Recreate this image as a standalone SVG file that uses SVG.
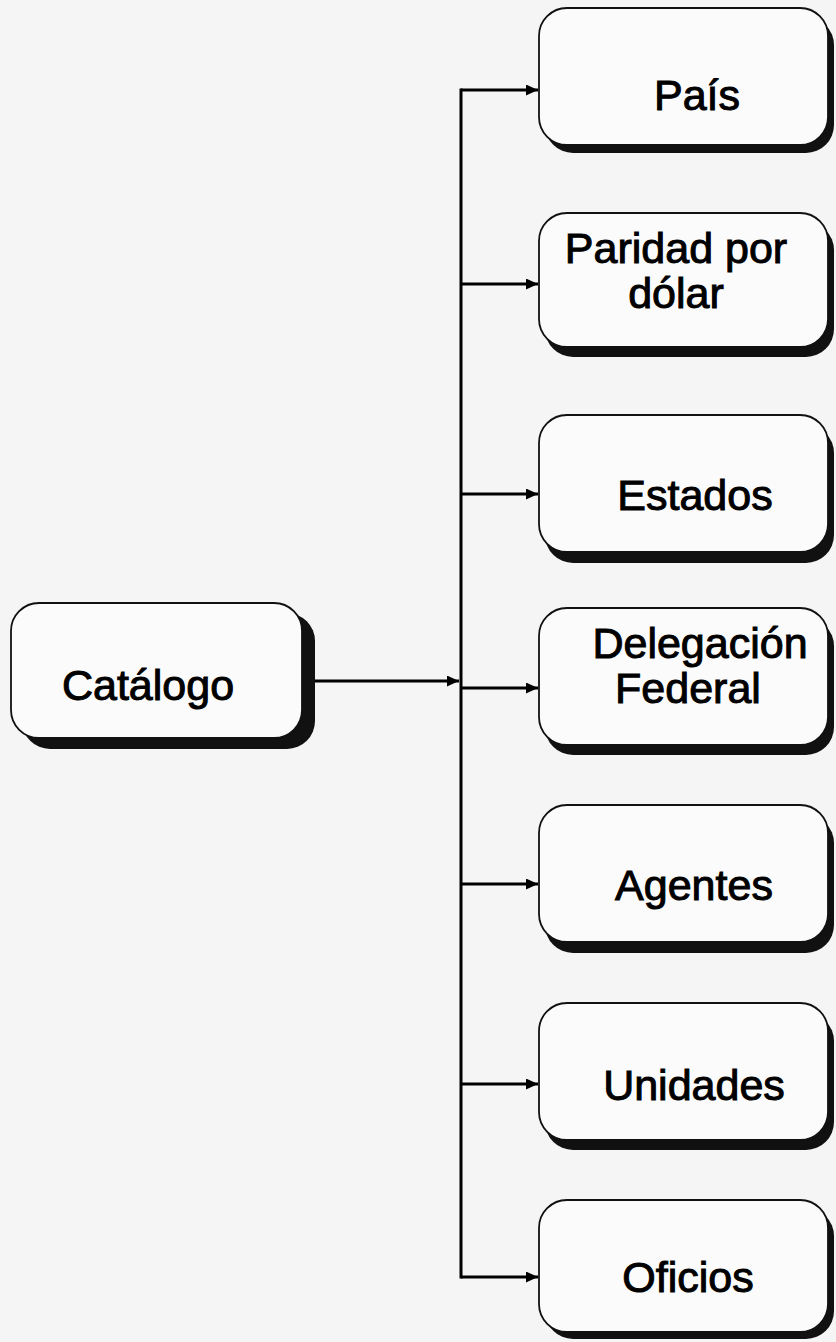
<svg xmlns="http://www.w3.org/2000/svg" width="836" height="1342" viewBox="0 0 836 1342">
<style>
.bg{fill:#f5f5f5}
.sh{fill:#111}
.box{fill:#fbfbfb;stroke:#111;stroke-width:1.8}
.lbl{font-family:"Liberation Sans",Arial,sans-serif;font-size:43px;fill:#000;stroke:#000;stroke-width:1;text-anchor:middle}
.con{fill:none;stroke:#000;stroke-width:3}
</style>
<defs>
<marker id="ah" markerUnits="userSpaceOnUse" markerWidth="14" markerHeight="12" refX="12" refY="5.5" orient="auto">
<path d="M0,0 L12,5.5 L0,11 z" fill="#000"/>
</marker>
</defs>
<rect class="bg" x="0" y="0" width="836" height="1342"/>
<g id="connectors">
<line class="con" x1="315" y1="681" x2="459" y2="681" marker-end="url(#ah)"/>
<line class="con" x1="461" y1="88.5" x2="461" y2="1278.5"/>
<line class="con" x1="461" y1="90" x2="538" y2="90" marker-end="url(#ah)"/>
<line class="con" x1="461" y1="284" x2="538" y2="284" marker-end="url(#ah)"/>
<line class="con" x1="461" y1="494" x2="538" y2="494" marker-end="url(#ah)"/>
<line class="con" x1="461" y1="688" x2="538" y2="688" marker-end="url(#ah)"/>
<line class="con" x1="461" y1="884" x2="538" y2="884" marker-end="url(#ah)"/>
<line class="con" x1="461" y1="1084" x2="538" y2="1084" marker-end="url(#ah)"/>
<line class="con" x1="461" y1="1277" x2="538" y2="1277" marker-end="url(#ah)"/>
</g>
<g id="catalogo">
<rect class="sh" x="22" y="613" width="293" height="136" rx="28"/>
<rect class="box" x="11" y="603" width="291" height="135" rx="28"/>
<text class="lbl" x="148" y="700">Catálogo</text>
</g>
<g id="pais">
<rect class="sh" x="545" y="17" width="289" height="136" rx="28"/>
<rect class="box" x="539" y="8" width="289" height="137" rx="28"/>
<text class="lbl" x="697" y="110">País</text>
</g>
<g id="paridad">
<rect class="sh" x="545" y="222" width="289" height="135" rx="28"/>
<rect class="box" x="539" y="213" width="289" height="134" rx="28"/>
<text class="lbl" x="676" y="263">Paridad por</text>
<text class="lbl" x="676" y="308">dólar</text>
</g>
<g id="estados">
<rect class="sh" x="545" y="425" width="289" height="138" rx="28"/>
<rect class="box" x="539" y="415" width="289" height="137" rx="28"/>
<text class="lbl" x="695" y="510">Estados</text>
</g>
<g id="delegacion">
<rect class="sh" x="545" y="618" width="289" height="137" rx="28"/>
<rect class="box" x="539" y="608" width="289" height="137" rx="28"/>
<text class="lbl" x="700" y="658">Delegación</text>
<text class="lbl" x="688" y="703">Federal</text>
</g>
<g id="agentes">
<rect class="sh" x="545" y="815" width="289" height="138" rx="28"/>
<rect class="box" x="539" y="805" width="289" height="137" rx="28"/>
<text class="lbl" x="694" y="900">Agentes</text>
</g>
<g id="unidades">
<rect class="sh" x="545" y="1013" width="289" height="137" rx="28"/>
<rect class="box" x="539" y="1003" width="289" height="137" rx="28"/>
<text class="lbl" x="694" y="1100">Unidades</text>
</g>
<g id="oficios">
<rect class="sh" x="545" y="1208" width="289" height="131" rx="28"/>
<rect class="box" x="539" y="1200" width="289" height="132" rx="28"/>
<text class="lbl" x="688" y="1292">Oficios</text>
</g>
</svg>
